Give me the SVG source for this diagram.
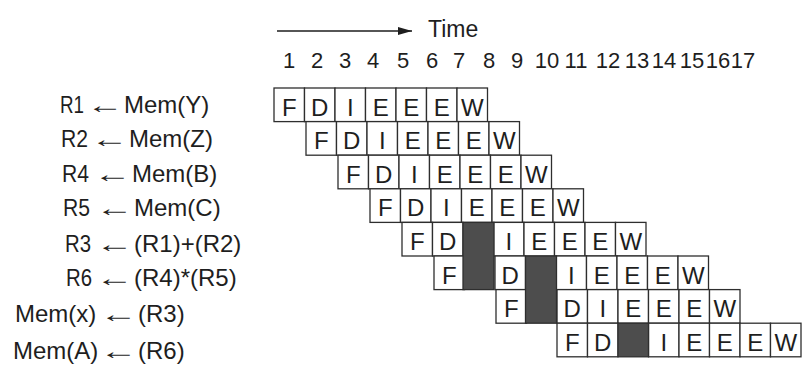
<svg xmlns="http://www.w3.org/2000/svg" width="812" height="371" viewBox="0 0 812 371">
<style>
  .c { fill: #ffffff; stroke: #2e2e2e; stroke-width: 1.3; }
  .s { fill: #4d4d4d; stroke: #2e2e2e; stroke-width: 1.3; }
  .t { font-family: "Liberation Sans", Arial, sans-serif; font-size: 24px; fill: #1e1e1e; text-anchor: middle; }
  .lb { font-family: "Liberation Sans", Arial, sans-serif; font-size: 24px; fill: #1e1e1e; }
  .n { font-family: "Liberation Sans", Arial, sans-serif; font-size: 22px; fill: #1e1e1e; text-anchor: middle; }
</style>
<defs>
  <marker id="ah" viewBox="0 0 14 8" refX="14" refY="4" markerWidth="14" markerHeight="8" markerUnits="userSpaceOnUse" orient="auto">
    <path d="M0,0 L14,4 L0,8 Z" fill="#1e1e1e"/>
  </marker>
</defs>
<rect x="0" y="0" width="812" height="371" fill="#ffffff"/>

<g id="connectors">
  <line x1="277" y1="31" x2="412" y2="31" stroke="#1e1e1e" stroke-width="1.5" marker-end="url(#ah)"/>
</g>

<g id="time-axis">
  <text x="428" y="37" class="lb" style="font-size:23px">Time</text>
  <text class="n" y="68" x="289">1</text>
  <text class="n" y="68" x="317">2</text>
  <text class="n" y="68" x="345">3</text>
  <text class="n" y="68" x="373">4</text>
  <text class="n" y="68" x="403">5</text>
  <text class="n" y="68" x="432">6</text>
  <text class="n" y="68" x="459">7</text>
  <text class="n" y="68" x="489">8</text>
  <text class="n" y="68" x="517">9</text>
  <text class="n" y="68" x="547">10</text>
  <text class="n" y="68" x="576">11</text>
  <text class="n" y="68" x="608">12</text>
  <text class="n" y="68" x="637">13</text>
  <text class="n" y="68" x="664">14</text>
  <text class="n" y="68" x="692">15</text>
  <text class="n" y="68" x="718">16</text>
  <text class="n" y="68" x="743">17</text>
</g>

<g id="labels">
  <text id="label1" class="lb" y="113"><tspan x="60" textLength="24" lengthAdjust="spacingAndGlyphs">R1</tspan><tspan x="86.5" textLength="37" lengthAdjust="spacingAndGlyphs">←</tspan><tspan x="124">Mem(Y)</tspan></text>
  <text id="label2" class="lb" y="147"><tspan x="61" textLength="27" lengthAdjust="spacingAndGlyphs">R2</tspan><tspan x="90.5" textLength="38" lengthAdjust="spacingAndGlyphs">←</tspan><tspan x="129">Mem(Z)</tspan></text>
  <text id="label3" class="lb" y="182"><tspan x="62" textLength="27" lengthAdjust="spacingAndGlyphs">R4</tspan><tspan x="93.5" textLength="38" lengthAdjust="spacingAndGlyphs">←</tspan><tspan x="132">Mem(B)</tspan></text>
  <text id="label4" class="lb" y="216"><tspan x="63" textLength="27" lengthAdjust="spacingAndGlyphs">R5</tspan><tspan x="95.5" textLength="38" lengthAdjust="spacingAndGlyphs">←</tspan><tspan x="134">Mem(C)</tspan></text>
  <text id="label5" class="lb" y="252"><tspan x="65" textLength="26" lengthAdjust="spacingAndGlyphs">R3</tspan><tspan x="95.5" textLength="38" lengthAdjust="spacingAndGlyphs">←</tspan><tspan x="134">(R1)+(R2)</tspan></text>
  <text id="label6" class="lb" y="286"><tspan x="66" textLength="26" lengthAdjust="spacingAndGlyphs">R6</tspan><tspan x="95.5" textLength="38" lengthAdjust="spacingAndGlyphs">←</tspan><tspan x="134">(R4)*(R5)</tspan></text>
  <text id="label7" class="lb" y="322"><tspan x="15">Mem(x)</tspan><tspan x="99.5" textLength="38" lengthAdjust="spacingAndGlyphs">←</tspan><tspan x="138">(R3)</tspan></text>
  <text id="label8" class="lb" y="359"><tspan x="13">Mem(A)</tspan><tspan x="99.5" textLength="38" lengthAdjust="spacingAndGlyphs">←</tspan><tspan x="138">(R6)</tspan></text>
</g>

<g id="row1">
  <rect class="c" x="274" y="88" width="30.5" height="33.6"/>
  <rect class="c" x="304.5" y="88" width="30.5" height="33.6"/>
  <rect class="c" x="335" y="88" width="30.5" height="33.6"/>
  <rect class="c" x="365.5" y="88" width="30.5" height="33.6"/>
  <rect class="c" x="396" y="88" width="30.5" height="33.6"/>
  <rect class="c" x="426.5" y="88" width="30.5" height="33.6"/>
  <rect class="c" x="457" y="88" width="30.5" height="33.6"/>
</g>
<g id="row2">
  <rect class="c" x="306" y="121.6" width="30.5" height="33.6"/>
  <rect class="c" x="336.5" y="121.6" width="30.5" height="33.6"/>
  <rect class="c" x="367" y="121.6" width="30.5" height="33.6"/>
  <rect class="c" x="397.5" y="121.6" width="30.5" height="33.6"/>
  <rect class="c" x="428" y="121.6" width="30.5" height="33.6"/>
  <rect class="c" x="458.5" y="121.6" width="30.5" height="33.6"/>
  <rect class="c" x="489" y="121.6" width="30.5" height="33.6"/>
</g>
<g id="row3">
  <rect class="c" x="338" y="155.2" width="30.5" height="33.6"/>
  <rect class="c" x="368.5" y="155.2" width="30.5" height="33.6"/>
  <rect class="c" x="399" y="155.2" width="30.5" height="33.6"/>
  <rect class="c" x="429.5" y="155.2" width="30.5" height="33.6"/>
  <rect class="c" x="460" y="155.2" width="30.5" height="33.6"/>
  <rect class="c" x="490.5" y="155.2" width="30.5" height="33.6"/>
  <rect class="c" x="521" y="155.2" width="30.5" height="33.6"/>
</g>
<g id="row4">
  <rect class="c" x="370" y="188.8" width="30.5" height="33.6"/>
  <rect class="c" x="400.5" y="188.8" width="30.5" height="33.6"/>
  <rect class="c" x="431" y="188.8" width="30.5" height="33.6"/>
  <rect class="c" x="461.5" y="188.8" width="30.5" height="33.6"/>
  <rect class="c" x="492" y="188.8" width="30.5" height="33.6"/>
  <rect class="c" x="522.5" y="188.8" width="30.5" height="33.6"/>
  <rect class="c" x="553" y="188.8" width="30.5" height="33.6"/>
</g>
<g id="row5">
  <rect class="c" x="402" y="222.4" width="30.5" height="33.6"/>
  <rect class="c" x="432.5" y="222.4" width="30.5" height="33.6"/>
  <rect class="c" x="493.5" y="222.4" width="30.5" height="33.6"/>
  <rect class="c" x="524" y="222.4" width="30.5" height="33.6"/>
  <rect class="c" x="554.5" y="222.4" width="30.5" height="33.6"/>
  <rect class="c" x="585" y="222.4" width="30.5" height="33.6"/>
  <rect class="c" x="615.5" y="222.4" width="30.5" height="33.6"/>
</g>
<g id="row6">
  <rect class="c" x="434" y="256" width="30.5" height="33.6"/>
  <rect class="c" x="495" y="256" width="30.5" height="33.6"/>
  <rect class="c" x="556" y="256" width="30.5" height="33.6"/>
  <rect class="c" x="586.5" y="256" width="30.5" height="33.6"/>
  <rect class="c" x="617" y="256" width="30.5" height="33.6"/>
  <rect class="c" x="647.5" y="256" width="30.5" height="33.6"/>
  <rect class="c" x="678" y="256" width="30.5" height="33.6"/>
</g>
<g id="row7">
  <rect class="c" x="496" y="289.6" width="30.5" height="33.6"/>
  <rect class="c" x="557" y="289.6" width="30.5" height="33.6"/>
  <rect class="c" x="587.5" y="289.6" width="30.5" height="33.6"/>
  <rect class="c" x="618" y="289.6" width="30.5" height="33.6"/>
  <rect class="c" x="648.5" y="289.6" width="30.5" height="33.6"/>
  <rect class="c" x="679" y="289.6" width="30.5" height="33.6"/>
  <rect class="c" x="709.5" y="289.6" width="30.5" height="33.6"/>
</g>
<g id="row8">
  <rect class="c" x="557" y="323.2" width="30.5" height="33.6"/>
  <rect class="c" x="587.5" y="323.2" width="30.5" height="33.6"/>
  <rect class="c" x="648.5" y="323.2" width="30.5" height="33.6"/>
  <rect class="c" x="679" y="323.2" width="30.5" height="33.6"/>
  <rect class="c" x="709.5" y="323.2" width="30.5" height="33.6"/>
  <rect class="c" x="740" y="323.2" width="30.5" height="33.6"/>
  <rect class="c" x="770.5" y="323.2" width="30.5" height="33.6"/>
</g>

<g id="stalls">
  <rect class="s" x="463" y="222.4" width="31" height="67.2"/>
  <rect class="s" x="525.5" y="256" width="31" height="67.2"/>
  <rect class="s" x="618" y="323.2" width="30.5" height="33.6"/>
</g>

<g id="stage-letters">
  <text class="t" y="115.5" x="289.25">F</text><text class="t" y="115.5" x="319.75">D</text><text class="t" y="115.5" x="350.25">I</text><text class="t" y="115.5" x="380.75">E</text><text class="t" y="115.5" x="411.25">E</text><text class="t" y="115.5" x="441.75">E</text><text class="t" y="115.5" x="472.25">W</text>
  <text class="t" y="149.1" x="321.25">F</text><text class="t" y="149.1" x="351.75">D</text><text class="t" y="149.1" x="382.25">I</text><text class="t" y="149.1" x="412.75">E</text><text class="t" y="149.1" x="443.25">E</text><text class="t" y="149.1" x="473.75">E</text><text class="t" y="149.1" x="504.25">W</text>
  <text class="t" y="182.7" x="353.25">F</text><text class="t" y="182.7" x="383.75">D</text><text class="t" y="182.7" x="414.25">I</text><text class="t" y="182.7" x="444.75">E</text><text class="t" y="182.7" x="475.25">E</text><text class="t" y="182.7" x="505.75">E</text><text class="t" y="182.7" x="536.25">W</text>
  <text class="t" y="216.3" x="385.25">F</text><text class="t" y="216.3" x="415.75">D</text><text class="t" y="216.3" x="446.25">I</text><text class="t" y="216.3" x="476.75">E</text><text class="t" y="216.3" x="507.25">E</text><text class="t" y="216.3" x="537.75">E</text><text class="t" y="216.3" x="568.25">W</text>
  <text class="t" y="249.9" x="417.25">F</text><text class="t" y="249.9" x="447.75">D</text><text class="t" y="249.9" x="508.75">I</text><text class="t" y="249.9" x="539.25">E</text><text class="t" y="249.9" x="569.75">E</text><text class="t" y="249.9" x="600.25">E</text><text class="t" y="249.9" x="630.75">W</text>
  <text class="t" y="283.5" x="449.25">F</text><text class="t" y="283.5" x="510.25">D</text><text class="t" y="283.5" x="571.25">I</text><text class="t" y="283.5" x="601.75">E</text><text class="t" y="283.5" x="632.25">E</text><text class="t" y="283.5" x="662.75">E</text><text class="t" y="283.5" x="693.25">W</text>
  <text class="t" y="317.1" x="511.25">F</text><text class="t" y="317.1" x="572.25">D</text><text class="t" y="317.1" x="602.75">I</text><text class="t" y="317.1" x="633.25">E</text><text class="t" y="317.1" x="663.75">E</text><text class="t" y="317.1" x="694.25">E</text><text class="t" y="317.1" x="724.75">W</text>
  <text class="t" y="350.7" x="572.25">F</text><text class="t" y="350.7" x="602.75">D</text><text class="t" y="350.7" x="663.75">I</text><text class="t" y="350.7" x="694.25">E</text><text class="t" y="350.7" x="724.75">E</text><text class="t" y="350.7" x="755.25">E</text><text class="t" y="350.7" x="785.75">W</text>
</g>
</svg>
